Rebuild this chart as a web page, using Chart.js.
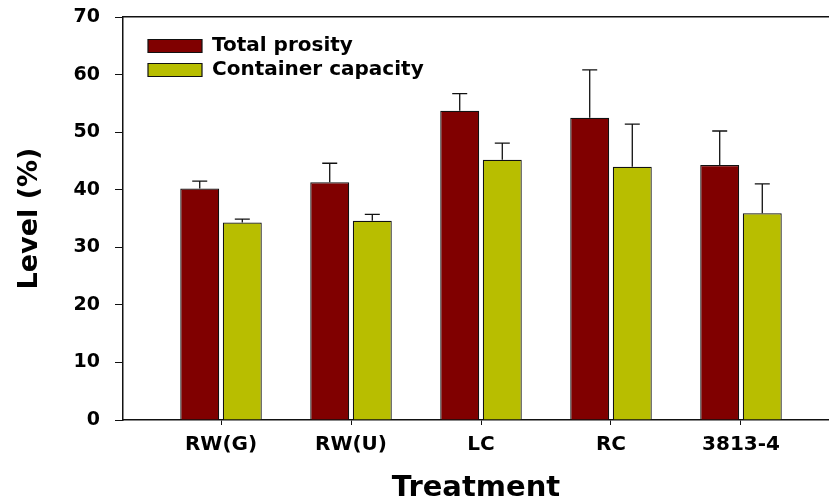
<!DOCTYPE html>
<html>
<head>
<meta charset="utf-8">
<script src="https://cdn.jsdelivr.net/npm/chart.js@4/dist/chart.umd.min.js"></script>
<style>
  html, body { margin: 0; padding: 0; background: #fff; }
  #wrap { width: 829px; height: 502px; }
</style>
</head>
<body>
<div id="wrap"><canvas id="levelChart"></canvas></div>
<script>
const treatments = ["RW(G)", "RW(U)", "LC", "RC", "3813-4"];
const totalPorosity = [40.2, 41.3, 53.7, 52.5, 44.3];
const totalPorosityErr = [1.3, 3.3, 3.0, 8.3, 5.9];
const containerCapacity = [34.3, 34.6, 45.2, 44.0, 35.9];
const containerCapacityErr = [0.6, 1.1, 2.9, 7.4, 5.1];
const yTicks = [0, 10, 20, 30, 40, 50, 60, 70];

Chart.defaults.font.family = "'DejaVu Sans', sans-serif";
Chart.defaults.font.weight = "bold";
Chart.defaults.color = "#000";

// upper error bars, drawn from the bar tops
const errorBars = {
  id: "errorBars",
  afterDatasetsDraw(chart) {
    const ctx = chart.ctx;
    const yScale = chart.scales.y;
    chart.data.datasets.forEach((ds, i) => {
      const meta = chart.getDatasetMeta(i);
      meta.data.forEach((bar, j) => {
        const top = yScale.getPixelForValue(ds.data[j].y + ds.errors[j]);
        ctx.save();
        ctx.strokeStyle = "#111";
        ctx.lineWidth = 1.3;
        ctx.beginPath();
        ctx.moveTo(bar.x, bar.y);
        ctx.lineTo(bar.x, top);
        ctx.moveTo(bar.x - 7.5, top);
        ctx.lineTo(bar.x + 7.5, top);
        ctx.stroke();
        ctx.restore();
      });
    });
  }
};

// nudge the in-plot legend to where the original sits
const legendShift = {
  id: "legendShift",
  afterLayout(chart) {
    chart.legend.left += 21;
    chart.legend.top += 32;
  }
};

const toPoints = vals => vals.map((v, i) => ({ x: i + 1, y: v }));

new Chart(document.getElementById("levelChart"), {
  type: "bar",
  data: {
    datasets: [
      {
        label: "Total prosity",
        data: toPoints(totalPorosity),
        errors: totalPorosityErr,
        backgroundColor: "#800000",
        borderColor: "#111",
        borderWidth: 1.2
      },
      {
        label: "Container capacity",
        data: toPoints(containerCapacity),
        errors: containerCapacityErr,
        backgroundColor: "#b8be00",
        borderColor: "#111",
        borderWidth: 1.2
      }
    ]
  },
  options: {
    responsive: true,
    maintainAspectRatio: false,
    animation: false,
    barPercentage: 0.915,
    categoryPercentage: 0.655,
    layout: { padding: { top: 17, left: 0, right: 0, bottom: 0 } },
    plugins: {
      tooltip: { enabled: false },
      legend: {
        position: "chartArea",
        align: "start",
        labels: {
          boxWidth: 54,
          boxHeight: 13,
          padding: 4,
          color: "#000",
          font: { size: 20, weight: "bold" }
        }
      }
    },
    scales: {
      x: {
        type: "linear",
        offset: false,
        min: 0.246,
        max: 5.677,
        afterBuildTicks: s => { s.ticks = treatments.map((t, i) => ({ value: i + 1 })); },
        afterFit: s => { s.height = 82; },
        ticks: {
          callback: v => treatments[v - 1],
          padding: 8,
          color: "#000",
          font: { size: 20, weight: "bold" }
        },
        grid: { drawOnChartArea: false, offset: false, tickLength: 5, color: "#111" },
        border: { color: "#111", width: 1.5 },
        title: {
          display: true,
          text: "Treatment",
          color: "#000",
          font: { size: 29, weight: "bold", lineHeight: 0.95 },
          padding: { top: 0, bottom: 0 }
        }
      },
      xTop: {
        type: "linear",
        position: "top",
        offset: false,
        min: 0,
        max: 1,
        ticks: { display: false },
        grid: { display: false },
        border: { color: "#111", width: 1.5 },
        afterFit: s => { s.height = 0; }
      },
      y: {
        min: 0,
        max: 70,
        afterBuildTicks: s => { s.ticks = yTicks.map(v => ({ value: v })); },
        afterFit: s => {
          s.width = 123;
          s.paddingTop = 0;
          s.paddingBottom = 0;
        },
        ticks: {
          padding: 15,
          color: "#000",
          font: { size: 19, weight: "bold" }
        },
        grid: { drawOnChartArea: false, tickLength: 8, color: "#111" },
        border: { color: "#111", width: 1.5 },
        title: {
          display: true,
          text: "Level (%)",
          color: "#000",
          font: { size: 27, weight: "bold" },
          padding: { top: 14, bottom: 0 }
        }
      }
    }
  },
  plugins: [errorBars, legendShift]
});
</script>
</body>
</html>
